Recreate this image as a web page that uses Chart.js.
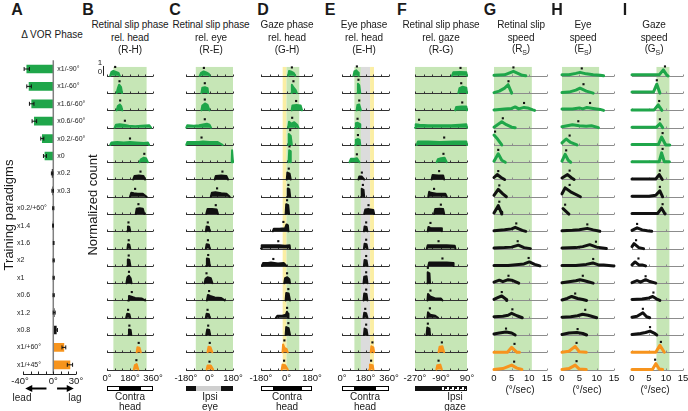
<!DOCTYPE html>
<html>
<head>
<meta charset="utf-8">
<script src="https://cdn.jsdelivr.net/npm/chart.js@4.4.1/dist/chart.umd.min.js"></script>
<style>
  html, body { margin: 0; padding: 0; background: #fff; }
  #fig { position: relative; width: 688px; height: 411px; overflow: hidden; font-family: Arial, "Liberation Sans", sans-serif; color: #1a1a1a; }
  #fig canvas { position: absolute; }
  .lbl { position: absolute; white-space: nowrap; transform: translate(-50%, -50%); line-height: 1; }
  .letter { font-weight: bold; font-size: 16px; }
  .ttl { font-size: 10px; letter-spacing: -0.1px; }
  .sm { font-size: 10px; }
  .rot { transform: translate(-50%, -50%) rotate(-90deg); font-size: 13px; }
  .dir { position: absolute; height: 5px; box-sizing: border-box; }
</style>
</head>
<body>
<div id="fig"></div>
<script>
// ---- panel A: change in VOR phase per training paradigm ----
const paradigms = ['x1/-90°', 'x1/-60°', 'x1.6/-60°', 'x0.6/-60°', 'x0.2/-60°', 'x0', 'x0.2', 'x0.3',
  'x0.2/+60°', 'x1.4', 'x1.6', 'x2', 'x1', 'x0.6', 'x1.2', 'x0.8', 'x1/+60°', 'x1/+45°'];
const paradigmGroup = ['g', 'g', 'g', 'g', 'g', 'g', 'k', 'k', 'k', 'k', 'k', 'k', 'k', 'k', 'k', 'k', 'o', 'o'];
const phaseShift = [-35, -32, -28.5, -25, -14.5, -11, -1.5, -0.8, 0, -0.3, 0.5, 0.5, 0.5, 0.5, 1.2, 4, 14, 22];
const phaseErr = [3.5, 3, 3, 3, 2, 2, 1, 1, 0.8, 0.5, 0.5, 0.8, 0.8, 0.8, 1.3, 1.5, 2.5, 3.5];

// ---- B: retinal slip phase rel. head (deg), [phase, normalized count] ----
const rhRows = [
  [[25,0],[35,0.4],[50,0.5],[70,0.4],[90,0.3],[100,0]],
  [[75,0],[85,0.5],[95,0.85],[110,0.6],[118,0]],
  [[75,0],[85,0.45],[100,0.6],[112,0.4],[120,0]],
  [[60,0],[70,0.3],[100,0.35],[130,0.3],[170,0.2],[220,0.15],[270,0.2],[330,0.25],[345,0]],
  [[25,0],[35,0.25],[80,0.3],[130,0.25],[180,0.3],[230,0.25],[290,0.2],[320,0.25],[330,0]],
  [[255,0],[265,0.3],[285,0.45],[305,0.4],[320,0]],
  [[205,0],[215,0.35],[250,0.4],[285,0.35],[298,0]],
  [[180,0],[190,0.4],[210,0.35],[240,0.3],[280,0.3],[310,0]],
  [[225,0],[232,0.55],[255,0.6],[280,0.55],[292,0]],
  [[158,0],[164,0.5],[175,0.45],[182,0]],
  [[160,0],[165,0.45],[175,0.4],[182,0]],
  [[158,0],[163,0.65],[175,0.6],[183,0]],
  [[152,0],[160,0.6],[172,0.75],[185,0.5],[192,0]],
  [[165,0],[172,0.45],[185,0.4],[220,0.25],[270,0.2],[298,0]],
  [[150,0],[158,0.4],[175,0.35],[182,0]],
  [[168,0],[172,0.55],[185,0.5],[190,0]],
  [[232,0],[238,0.5],[255,0.45],[265,0]],
  [[210,0],[218,0.45],[232,0.55],[245,0]]
];
const rhMeans = [[64,0.9],[98,1.2],[103,1.0],[140,0.7],[180,0.65],[292,0.85],[262,0.8],[220,0.8],[246,1.0],
  [168,0.9],[170,0.85],[170,1.05],[172,1.15],[194,0.85],[165,0.8],[175,0.95],[248,0.95],[230,0.95]];

// ---- C: retinal slip phase rel. eye (deg) ----
const reRows = [
  [[-75,0],[-65,0.3],[-45,0.45],[-25,0.35],[-5,0.2],[2,0]],
  [[-62,0],[-55,0.55],[-35,0.6],[-15,0.5],[-10,0]],
  [[-62,0],[-55,0.5],[-35,0.7],[-15,0.55],[0,0]],
  [[-178,0],[-170,0.25],[-120,0.2],[-80,0.25],[-40,0.35],[-20,0.4],[0,0.3],[12,0]],
  [[-178,0],[-170,0.3],[-120,0.3],[-80,0.3],[-50,0.35],[0,0.3],[60,0.3],[100,0]],
  [[170,0],[173,1.2],[178,1.2],[180,0]],
  [[40,0],[48,0.35],[90,0.4],[130,0.35],[142,0]],
  [[10,0],[18,0.4],[45,0.45],[90,0.35],[130,0.3],[155,0]],
  [[-25,0],[-15,0.5],[20,0.5],[55,0.45],[65,0]],
  [[-28,0],[-22,0.5],[-5,0.45],[2,0]],
  [[-28,0],[-22,0.45],[-5,0.4],[2,0]],
  [[-26,0],[-20,0.75],[-5,0.7],[2,0]],
  [[-38,0],[-30,0.45],[-15,0.6],[10,0.5],[22,0]],
  [[-20,0],[-12,0.55],[5,0.45],[40,0.3],[90,0.25],[117,0]],
  [[-28,0],[-22,0.4],[-5,0.35],[2,0]],
  [[-25,0],[-18,0.55],[-2,0.5],[5,0]],
  [[-15,0],[-8,0.55],[8,0.5],[22,0]],
  [[-22,0],[-15,0.4],[10,0.4],[28,0]]
];
const reMeans = [[-43,0.8],[-36,1.0],[-36,1.1],[-36,0.85],[-61,0.75],null,[99,0.8],[58,0.85],[48,0.9],
  [-13,0.9],[-12,0.85],[-10,1.1],[-23,1.0],[-3,0.95],[-15,0.8],[-10,0.95],[2,0.95],[0,0.8]];

// ---- D: gaze phase rel. head (deg) ----
const ghRows = [
  [[12,0],[18,0.5],[30,0.45],[50,0.3],[62,0]],
  [[35,0],[38,0.85],[48,0.6],[65,0.3],[73,0]],
  [[36,0],[42,0.5],[70,0.55],[100,0.5],[110,0]],
  [[12,0],[18,0.6],[35,0.4],[55,0.55],[75,0.3],[85,0]],
  [[12,0],[16,1.1],[30,0.9],[38,0]],
  [[15,0],[19,1.2],[27,1.1],[30,0]],
  [[2,0],[6,0.7],[22,0.6],[30,0]],
  [[5,0],[9,0.85],[20,0.75],[26,0]],
  [[-6,0],[-2,1.0],[12,0.9],[18,0]],
  [[-97,0],[-90,0.25],[-50,0.25],[-10,0.3],[0,0.7],[10,0.6],[14,0]],
  [[-180,0],[-175,0.35],[-130,0.35],[-90,0.35],[-50,0.35],[-10,0.3],[22,0.35],[25,0]],
  [[-172,0],[-165,0.3],[-130,0.3],[-110,0.35],[-60,0.25],[-20,0.3],[0,0]],
  [[-16,0],[-10,0.5],[5,0.6],[20,0.4],[25,0]],
  [[-6,0],[-2,0.75],[15,0.7],[25,0]],
  [[-75,0],[-65,0.2],[-30,0.2],[-5,0.3],[3,0.6],[12,0.4],[14,0]],
  [[-6,0],[-2,0.8],[15,0.7],[25,0]],
  [[-28,0],[-24,0.8],[-15,0.45],[0,0.35],[9,0]],
  [[-34,0],[-28,0.5],[-10,0.45],[9,0]]
];
const ghMeans = [[38,0.85],[49,1.2],[68,0.95],[40,1.0],[26,1.5],[21,1.6],[16,1.1],[13,1.2],[4,1.4],
  [-22,0.95],[-58,0.75],[-93,0.7],[4,1.0],[13,1.15],[4,1.0],[13,1.2],[-15,1.2],[-17,0.9]];

// ---- E: eye phase rel. head (deg) ----
const ehRows = [
  [[88,0],[95,0.45],[110,0.55],[125,0.3],[128,0]],
  [[118,0],[122,0.95],[132,0.8],[140,0]],
  [[112,0],[118,0.55],[132,0.6],[145,0]],
  [[100,0],[106,0.45],[120,0.5],[138,0.35],[140,0]],
  [[100,0],[106,0.5],[120,0.6],[135,0.5],[140,0]],
  [[58,0],[68,0.35],[95,0.35],[115,0.4],[134,0]],
  [[126,0],[132,0.3],[150,0.3],[170,0]],
  [[147,0],[151,0.8],[165,0.7],[170,0]],
  [[170,0],[178,0.45],[205,0.5],[240,0.4],[246,0]],
  [[168,0],[173,0.5],[188,0.45],[195,0]],
  [[168,0],[173,0.5],[188,0.45],[195,0]],
  [[168,0],[173,0.6],[188,0.55],[195,0]],
  [[165,0],[170,0.65],[188,0.7],[195,0]],
  [[165,0],[170,0.7],[188,0.65],[195,0]],
  [[165,0],[170,0.5],[185,0.45],[195,0]],
  [[168,0],[173,0.65],[188,0.55],[195,0]],
  [[220,0],[225,0.6],[240,0.5],[246,0]],
  [[208,0],[214,0.5],[235,0.45],[241,0]]
];
const ehMeans = [[114,0.95],[126,1.35],[132,1.0],[119,0.9],[122,1.0],[114,0.8],[152,0.7],[160,1.2],[203,0.9],
  [185,0.9],[185,0.9],[185,1.0],[185,1.1],[185,1.1],[178,0.9],[185,1.05],[233,1.0],[223,0.9]];

// ---- F: retinal slip phase rel. gaze (deg) ----
const rgRows = [
  [[-14,0],[-5,0.35],[40,0.4],[85,0.35],[90,0]],
  [[30,0],[38,0.5],[60,0.65],[85,0.55],[90,0]],
  [[8,0],[15,0.35],[50,0.4],[85,0.4],[90,0]],
  [[-270,0],[-265,0.35],[-240,0.3],[-180,0.25],[-100,0.25],[-20,0.25],[40,0.3],[85,0.35],[90,0]],
  [[-258,0],[-250,0.35],[-180,0.35],[-100,0.3],[0,0.35],[85,0.35],[90,0]],
  [[-120,0],[-112,0.3],[-90,0.4],[-65,0.45],[-50,0]],
  [[-155,0],[-148,0.45],[-110,0.4],[-75,0.4],[-68,0]],
  [[-178,0],[-172,0.5],[-160,0.4],[-120,0.3],[-60,0.3],[-50,0]],
  [[-138,0],[-130,0.5],[-100,0.55],[-75,0.5],[-68,0]],
  [[-182,0],[-177,0.45],[-165,0.35],[-120,0.3],[-90,0.3],[-84,0]],
  [[-188,0],[-182,0.35],[-120,0.35],[-50,0.35],[5,0.3],[10,0]],
  [[-178,0],[-172,0.35],[-120,0.35],[-50,0.35],[-5,0.3],[-3,0]],
  [[-185,0],[-182,1.1],[-170,1.0],[-166,0]],
  [[-184,0],[-180,0.65],[-165,0.4],[-130,0.2],[-90,0.2],[-80,0]],
  [[-184,0],[-180,0.55],[-165,0.3],[-130,0.2],[-110,0]],
  [[-190,0],[-185,0.75],[-170,0.65],[-166,0]],
  [[-107,0],[-100,0.55],[-80,0.6],[-68,0]],
  [[-122,0],[-116,0.45],[-95,0.5],[-84,0]]
];
const rgMeans = [[45,0.8],[50,1.0],[57,0.8],[-242,0.8],[-68,0.75],[-73,0.85],[-103,0.85],[-138,0.8],[-91,0.95],
  [-163,0.85],[-107,0.75],[-80,0.75],[-181,1.55],[-163,1.0],[-167,0.95],[-181,1.15],[-84,1.0],[-107,0.9]];

// ---- G: retinal slip speed (deg/s) ----
const rsRows = [
  [[0,0.05],[3,0.1],[5.5,0.45],[8,0.05],[9,0]],
  [[0,0.05],[1.5,0.2],[3,0.5],[4,0.85],[5,0]],
  [[0,0.05],[3,0.15],[5,0.2],[6,0.35],[7,0.15],[8.5,0.3],[9.5,0.25],[11,0.05],[11.5,0]],
  [[0,0.05],[1,0.3],[2.2,0.6],[3.5,0.3],[5,0.05],[6,0]],
  [[0,1.0],[1,0.6],[2.2,0]],
  [[0,0.1],[1.2,0.85],[2.2,0.2],[3.2,0]],
  [[0,0.2],[0.9,0.5],[2,0.2],[3,0]],
  [[0,0.15],[1.2,0.75],[2.5,0.3],[3.5,0]],
  [[0,0.1],[1.2,0.85],[2,0.2],[2.2,0]],
  [[0,0.05],[3,0.15],[5,0.25],[6,0.4],[7,0.25],[8,0.1],[9,0]],
  [[0,0.05],[3,0.1],[5,0.15],[6.9,0.35],[8.5,0.1],[10.3,0]],
  [[0,0.05],[4,0.05],[7,0.15],[8.5,0.2],[10,0.4],[11.5,0.15],[13,0]],
  [[0,0.1],[1.5,0.3],[2.5,0.15],[4,0.35],[5,0.3],[6,0.15],[7,0]],
  [[0,0.1],[1.2,0.3],[2.2,0.45],[3.5,0.1],[3.6,0]],
  [[0,0.1],[2.5,0.15],[4,0.25],[5,0.45],[6.5,0.2],[8,0]],
  [[0,0.1],[1.5,0.2],[3.4,0.3],[5,0.2],[6,0]],
  [[0,0],[3.8,0],[5,0.5],[6.5,0],[7.2,0]],
  [[0,0],[2.5,0.1],[5,0.45],[6.5,0.15],[7.9,0]]
];
const rsMeans = [[5.5,0.85],[4.1,1.2],[8.5,0.75],[2.5,0.95],[0.3,1.35],[1.2,1.25],[1.2,0.85],[1.5,1.15],[1.5,1.25],
  [6.3,0.8],[6.7,0.75],[9.8,0.8],[4.1,0.75],[2.2,0.85],[5.2,0.85],[3.4,0.65],[5.8,0.85],[5.7,0.8]];

// ---- H: eye speed (deg/s) ----
const esRows = [
  [[0,0.1],[2,0.1],[4,0.25],[5.2,0.35],[7,0.2],[9,0.1],[11,0.05],[12,0]],
  [[0,0.05],[2,0.1],[4,0.3],[5.2,0.5],[7,0.2],[9,0]],
  [[0,0.15],[3,0.15],[5,0.25],[6,0.15],[7.2,0.3],[9,0.2],[11,0.1],[12,0]],
  [[0,0.1],[1.5,0.2],[3,0.3],[5,0.2],[7,0.15],[8.5,0.2],[10,0.05],[10.5,0]],
  [[0,0.2],[1.2,0.6],[2.5,0.25],[4.3,0]],
  [[0,0.1],[0.9,0.8],[1.8,0.2],[2.5,0]],
  [[0,0.15],[1.6,0.5],[2.8,0.15],[3.5,0]],
  [[0,0.3],[0.9,0.9],[2.5,0.5],[5.3,0]],
  [[0.3,0.55],[2,0]],
  [[0,0.05],[3,0.1],[5,0.15],[7.3,0.3],[9,0.15],[10.9,0]],
  [[0,0.05],[4,0.1],[6,0.2],[8,0.4],[10,0.15],[12.8,0]],
  [[0,0.05],[4,0.05],[7,0.15],[8.9,0.3],[10.5,0.1],[12,0.1],[15,0]],
  [[0,0.05],[2,0.15],[4,0.25],[5.2,0.35],[6.5,0.25],[7.5,0.15],[9,0]],
  [[0,0.05],[1.5,0.2],[2.8,0.4],[4.5,0.2],[6,0.1],[7.1,0]],
  [[0,0.05],[2.5,0.1],[4.5,0.2],[5.9,0.35],[7.5,0.25],[9,0.1],[10,0]],
  [[0,0.05],[2,0.2],[4.3,0.25],[6,0.15],[7.1,0]],
  [[0,0],[2,0.1],[3.8,0.6],[5,0.05],[7,0]],
  [[0,0],[2,0.1],[3.8,0.45],[5,0.05],[7,0]]
];
const esMeans = [[5.7,0.75],[6.2,0.9],[8.1,0.75],[4.7,0.65],[2.2,0.95],[1.2,1.2],[2.2,0.9],[2.2,1.2],[0.9,0.95],
  [7.3,0.7],[9.8,0.7],[9,0.7],[6,0.75],[3.8,0.7],[6.7,0.8],[4.5,0.6],[4.2,0.95],[4.2,0.85]];

// ---- I: gaze speed (deg/s) ----
const gsRows = [
  [[0,0.1],[8,0.1],[9.2,0.6],[10.3,0.05],[10.6,0]],
  [[0,0.1],[6.3,0.1],[7.3,0.9],[8.2,0]],
  [[0,0.05],[6.5,0.05],[7.7,0.55],[8.8,0]],
  [[0,0.05],[7.2,0.05],[8.2,0.4],[9,0]],
  [[0,0.05],[7.8,0.05],[8.7,0.8],[9.9,0],[11.1,0]],
  [[0,0.05],[8,0.05],[8.7,0.95],[9.5,0.05],[11,0.05]],
  [[0,0.05],[7,0.05],[8,0.5],[8.9,0]],
  [[0,0.05],[5,0.05],[7,0.15],[8.2,0.6],[9,0]],
  [[0,0.05],[7.5,0.05],[8.7,0.6],[9.7,0]],
  [[0,0.1],[1.5,0.35],[3,0.15],[4.5,0.05],[5.8,0]],
  [[0,0.2],[0.6,0.5],[2,0.1],[3.4,0]],
  [[0,0.1],[0.9,0.4],[2,0.1],[3,0.1],[4,0]],
  [[0,0.05],[1.5,0.25],[2.5,0.1],[4,0.35],[5,0.2],[7,0]],
  [[0,0.1],[3,0.15],[5,0.25],[6.1,0.4],[7.5,0.1],[8.2,0]],
  [[0,0.05],[1.5,0.15],[3.2,0.5],[4.3,0.1],[5.2,0]],
  [[0,0.05],[2.5,0.15],[4,0.25],[5.3,0.4],[6.5,0.2],[7.3,0]],
  [[0,0],[7,0],[8.2,0.7],[9.5,0]],
  [[0,0],[6,0],[7,0.6],[8,0.05],[9,0]]
];
const gsMeans = [[9.7,0.95],[7.3,1.3],[8,0.95],[8.2,0.85],[9,1.2],[9,1.35],[8.2,0.9],[8.2,1.0],[9,1.0],
  [1.5,0.75],[1.2,0.85],[1.9,0.75],[4,0.7],[6.3,0.8],[3.2,0.9],[5.3,0.8],[8.5,1.05],[6.8,1.0]];

// ---- styling ----
const GROUP_COLOR = { g: '#1fa64a', k: '#111111', o: '#f7941d' };
const BAND_G = '#c6e6b6', BAND_Y = '#fbeea4', BAND_GREY = '#dcdcdc';
const NROWS = paradigms.length;
const ROW_STEP = 1.75, Y_MIN = -0.45, Y_MAX = 31.15;
const BAND_TOP = 30.65, BAND_BOTTOM = -0.1;
const rowBase = i => (NROWS - 1 - i) * ROW_STEP;
const deg = v => v + '°';

const panels = [
  { id: 'B', rows: rhRows, means: rhMeans, min: 0, max: 360, step: 60, labels: [0, 180, 360], fmt: deg, kind: 'hist', left: 95, width: 70, bands: [[50, 310, BAND_G]] },
  { id: 'C', rows: reRows, means: reMeans, min: -180, max: 180, step: 60, labels: [-180, 0, 180], fmt: deg, kind: 'hist', left: 174, width: 71, bands: [[-105, 180, BAND_G]] },
  { id: 'D', rows: ghRows, means: ghMeans, min: -180, max: 180, step: 60, labels: [-180, 0, 180], fmt: deg, kind: 'hist', left: 249, width: 75, bands: [[-27, 0, BAND_Y], [0, 90, BAND_G]] },
  { id: 'E', rows: ehRows, means: ehMeans, min: 0, max: 360, step: 60, labels: [0, 180, 360], fmt: deg, kind: 'hist', left: 330, width: 71, bands: [[95, 145, BAND_G], [145, 215, BAND_GREY], [215, 245, BAND_Y]] },
  { id: 'F', rows: rgRows, means: rgMeans, min: -270, max: 90, step: 60, labels: [-270, -90, 90], fmt: deg, kind: 'hist', left: 403, width: 76, bands: [[-270, 90, BAND_G]] },
  { id: 'G', rows: rsRows, means: rsMeans, min: 0, max: 15, step: 5, labels: [0, 5, 10, 15], fmt: String, kind: 'speed', left: 482, width: 77, bands: [[0, 10.7, BAND_G]] },
  { id: 'H', rows: esRows, means: esMeans, min: 0, max: 15, step: 5, labels: [0, 5, 10, 15], fmt: String, kind: 'speed', left: 550, width: 76, bands: [[0, 10.7, BAND_G]] },
  { id: 'I', rows: gsRows, means: gsMeans, min: 0, max: 15, step: 5, labels: [0, 5, 10, 15], fmt: String, kind: 'speed', left: 620, width: 75, bands: [[7.2, 11, BAND_G]] }
];

const fig = document.getElementById('fig');
function addCanvas(left, top, w, h) {
  const c = document.createElement('canvas');
  c.width = w; c.height = h;
  c.style.left = left + 'px'; c.style.top = top + 'px';
  c.style.width = w + 'px'; c.style.height = h + 'px';
  fig.appendChild(c);
  return c;
}
function addText(html, x, y, cls, extra) {
  const d = document.createElement('div');
  d.className = 'lbl ' + (cls || '');
  d.style.left = x + 'px'; d.style.top = y + 'px';
  if (extra) Object.assign(d.style, extra);
  d.innerHTML = html;
  fig.appendChild(d);
}
function arrow(ctx, x1, x2, y) {
  const dir = Math.sign(x2 - x1);
  ctx.beginPath(); ctx.moveTo(x1, y); ctx.lineTo(x2 - dir * 5, y); ctx.stroke();
  ctx.beginPath(); ctx.moveTo(x2, y); ctx.lineTo(x2 - dir * 7, y - 3.5); ctx.lineTo(x2 - dir * 7, y + 3.5); ctx.closePath(); ctx.fill();
}

// ---- panel A chart ----
const vorPlugin = {
  id: 'vorDecor',
  afterDatasetsDraw(chart) {
    const { ctx, chartArea: a, scales: { x, y } } = chart;
    ctx.save();
    const x0 = x.getPixelForValue(0);
    ctx.strokeStyle = '#808080'; ctx.lineWidth = 1.5;
    ctx.beginPath(); ctx.moveTo(x0, a.top); ctx.lineTo(x0, a.bottom); ctx.stroke();
    ctx.strokeStyle = '#111'; ctx.lineWidth = 1;
    phaseShift.forEach((v, i) => {
      const yy = y.getPixelForValue(i);
      const l = x.getPixelForValue(v - phaseErr[i]), r = x.getPixelForValue(v + phaseErr[i]);
      ctx.beginPath();
      ctx.moveTo(l, yy); ctx.lineTo(r, yy);
      ctx.moveTo(l, yy - 2); ctx.lineTo(l, yy + 2);
      ctx.moveTo(r, yy - 2); ctx.lineTo(r, yy + 2);
      ctx.stroke();
    });
    ctx.font = '7px Arial'; ctx.fillStyle = '#222'; ctx.textBaseline = 'middle'; ctx.textAlign = 'left';
    paradigms.forEach((t, i) => {
      const xx = i < 8 ? x0 + 4 : x.getPixelForValue(-40) - 6;
      ctx.fillText(t, xx, y.getPixelForValue(i));
    });
    // bottom axis
    const yb = Math.round(a.bottom) + 0.5;
    ctx.strokeStyle = '#222';
    ctx.beginPath();
    ctx.moveTo(x.getPixelForValue(-40), yb); ctx.lineTo(x.getPixelForValue(30), yb);
    for (let t = -40; t <= 30; t += 10) { const xx = Math.round(x.getPixelForValue(t)) + 0.5; ctx.moveTo(xx, yb); ctx.lineTo(xx, yb - 3); }
    ctx.stroke();
    ctx.font = '9.5px Arial'; ctx.textAlign = 'center'; ctx.fillStyle = '#111';
    [-40, 0, 30].forEach(t => ctx.fillText(deg(t), x.getPixelForValue(t) - (t < 0 ? 3 : 0), a.bottom + 8));
    ctx.fillStyle = '#000'; ctx.strokeStyle = '#000'; ctx.lineWidth = 2;
    arrow(ctx, x.getPixelForValue(-9), x.getPixelForValue(-37), a.bottom + 15);
    arrow(ctx, x.getPixelForValue(5), x.getPixelForValue(27), a.bottom + 15);
    ctx.restore();
  }
};

new Chart(addCanvas(0, 55, 110, 356), {
  type: 'bar',
  data: {
    labels: paradigms,
    datasets: [{ data: phaseShift, backgroundColor: paradigmGroup.map(g => GROUP_COLOR[g]), barThickness: 8, borderWidth: 0 }]
  },
  options: {
    indexAxis: 'y', responsive: false, animation: false, events: [],
    layout: { padding: { left: 23, right: 34, top: 5.3, bottom: 37.5 } },
    plugins: { legend: { display: false }, tooltip: { enabled: false } },
    scales: { x: { type: 'linear', min: -40, max: 30, display: false }, y: { display: false } }
  },
  plugins: [vorPlugin]
});

// ---- panels B-I ----
function panelPlugin(p) {
  return {
    id: 'decor' + p.id,
    beforeDatasetsDraw(chart) {
      const { ctx, chartArea: a, scales: { x, y } } = chart;
      ctx.save();
      const top = y.getPixelForValue(BAND_TOP), bot = y.getPixelForValue(BAND_BOTTOM);
      p.bands.forEach(([from, to, c]) => {
        const x1 = x.getPixelForValue(from), x2 = x.getPixelForValue(to);
        ctx.fillStyle = c; ctx.fillRect(x1, top, x2 - x1, bot - top);
      });
      ctx.strokeStyle = p.kind === 'speed' ? '#8c8c8c' : '#333';
      ctx.lineWidth = 1;
      for (let i = 0; i < NROWS; i++) {
        const yy = Math.round(y.getPixelForValue(rowBase(i))) + 0.5;
        ctx.beginPath();
        ctx.moveTo(x.getPixelForValue(p.min), yy); ctx.lineTo(x.getPixelForValue(p.max), yy);
        for (let t = p.min; t <= p.max + 1e-9; t += p.step) {
          const xx = Math.round(x.getPixelForValue(t)) + 0.5;
          ctx.moveTo(xx, yy); ctx.lineTo(xx, yy - 2);
        }
        ctx.stroke();
      }
      if (p.id === 'B') {
        const xs = a.left - 3.5;
        ctx.strokeStyle = '#222';
        ctx.beginPath(); ctx.moveTo(xs, y.getPixelForValue(rowBase(0))); ctx.lineTo(xs, y.getPixelForValue(rowBase(0) + 1)); ctx.stroke();
      }
      ctx.restore();
    },
    afterDraw(chart) {
      const { ctx, chartArea: a, scales: { x } } = chart;
      ctx.save();
      ctx.font = '9.5px Arial'; ctx.fillStyle = '#111'; ctx.textAlign = 'center'; ctx.textBaseline = 'middle';
      p.labels.forEach(t => ctx.fillText(p.fmt(t), x.getPixelForValue(t), a.bottom + 4));
      ctx.restore();
    }
  };
}

panels.forEach(p => {
  const speed = p.kind === 'speed';
  const datasets = p.rows.map((pts, i) => {
    const base = rowBase(i), col = GROUP_COLOR[paradigmGroup[i]];
    return {
      data: pts.map(([x, h]) => ({ x, y: base + h })),
      borderColor: col, backgroundColor: col,
      borderWidth: speed ? 3 : 2,
      fill: speed ? false : { value: base },
      pointRadius: 0, tension: 0, clip: false,
      borderJoinStyle: 'round', borderCapStyle: 'round'
    };
  });
  datasets.push({
    data: p.means.map((m, i) => m && { x: m[0], y: rowBase(i) + m[1] }).filter(Boolean),
    showLine: false, pointStyle: 'rect', pointRadius: 1.5,
    pointBackgroundColor: '#111', pointBorderWidth: 0, clip: false
  });
  new Chart(addCanvas(p.left, 58, p.width, 353), {
    type: 'line',
    data: { datasets },
    options: {
      responsive: false, animation: false, events: [],
      layout: { padding: { left: 12, right: 12, top: 0, bottom: 37 } },
      plugins: { legend: { display: false }, tooltip: { enabled: false } },
      scales: {
        x: { type: 'linear', min: p.min, max: p.max, display: false },
        y: { type: 'linear', min: Y_MIN, max: Y_MAX, display: false }
      }
    },
    plugins: [panelPlugin(p)]
  });
});

// ---- text and direction bars ----
[['A', 17, 10], ['B', 88, 10], ['C', 175, 10], ['D', 263, 10], ['E', 330, 10], ['F', 402, 10], ['G', 490, 10], ['H', 557, 10], ['I', 625, 10]]
  .forEach(([t, x, y]) => addText(t, x, y, 'letter'));
addText('Δ VOR Phase', 52, 35, 'sm');
const titles = [
  [130, 'Retinal slip phase', 'rel. head', '(R-H)'],
  [211, 'Retinal slip phase', 'rel. eye', '(R-E)'],
  [287, 'Gaze phase', 'rel. head', '(G-H)'],
  [364, 'Eye phase', 'rel. head', '(E-H)'],
  [441, 'Retinal slip phase', 'rel. gaze', '(R-G)'],
  [521, 'Retinal slip', 'speed', '(R<sub style="font-size:7px">S</sub>)'],
  [583, 'Eye', 'speed', '(E<sub style="font-size:7px">S</sub>)'],
  [654, 'Gaze', 'speed', '(G<sub style="font-size:7px">S</sub>)']
];
titles.forEach(([x, a, b, c]) => { addText(a, x, 25, 'ttl'); addText(b, x, 38, 'ttl'); addText(c, x, 50, 'ttl'); });
addText('Training paradigms', 8, 215, 'rot');
addText('Normalized count', 92, 205, 'rot');
addText('1', 100, 63, '', { fontSize: '8px' });
addText('0', 100, 72, '', { fontSize: '8px' });
addText('lead', 22, 398, 'sm');
addText('lag', 75, 398, 'sm');
[520, 587, 655].forEach(x => addText('(°/sec)', x, 390, 'sm'));
[[130, 'Contra', 'head'], [210, 'Ipsi', 'eye'], [287, 'Contra', 'head'], [365, 'Contra', 'head'], [455, 'Ipsi', 'gaze']]
  .forEach(([x, a, b]) => { addText(a, x, 397, 'sm'); addText(b, x, 407, 'sm'); });

function dirBar(left, width, bg, border) {
  const d = document.createElement('div');
  d.className = 'dir';
  Object.assign(d.style, { left: left + 'px', top: '386px', width: width + 'px', background: bg, border: border || 'none' });
  fig.appendChild(d);
}
dirBar(107, 46, 'linear-gradient(90deg,#fff 0 24%,#000 24% 76%,#fff 76%)', '1px solid #000');
dirBar(186, 47, 'linear-gradient(90deg,#111 0 22%,#cfcfcf 22% 74%,#111 74%)');
dirBar(261, 51, 'linear-gradient(90deg,#fff 0 23%,#000 23% 82%,#fff 82%)', '1px solid #000');
dirBar(342, 47, 'linear-gradient(90deg,#fff 0 24%,#000 24% 74%,#fff 74%)', '1px solid #000');
dirBar(415, 26, '#111');
dirBar(441, 26, 'repeating-conic-gradient(#111 0 25%, #fff 0 50%) 0 0 / 5px 5px', '1px solid #111');
</script>
</body>
</html>
